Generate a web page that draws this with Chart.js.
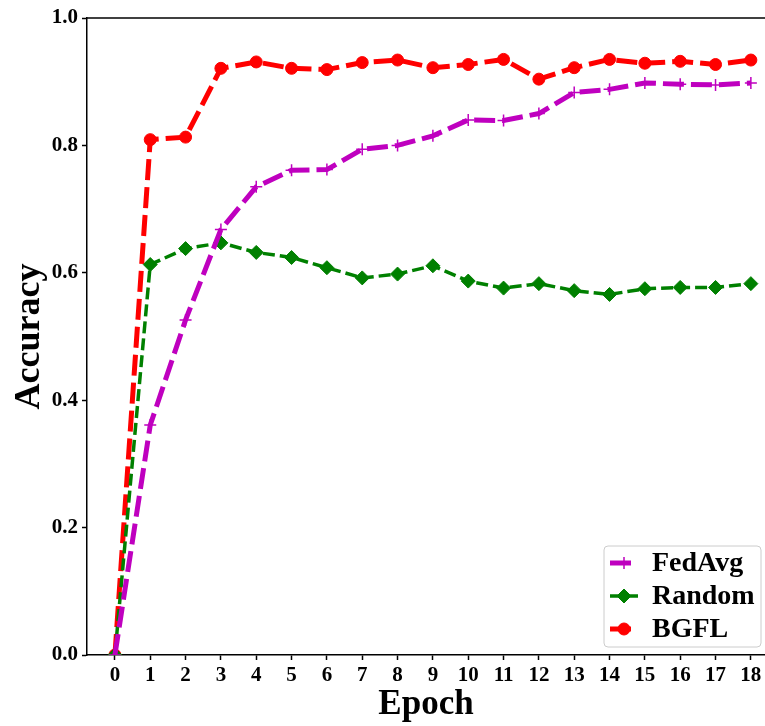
<!DOCTYPE html>
<html>
<head>
<meta charset="utf-8">
<script src="https://cdn.jsdelivr.net/npm/chart.js@4.4.0/dist/chart.umd.min.js"></script>
<style>
  html, body { margin: 0; padding: 0; background: #fff; }
  #wrap { width: 765px; height: 726px; }
</style>
</head>
<body>
<div id="wrap"><canvas id="accChart"></canvas></div>
<script>
// values
const epochs = [0, 1, 2, 3, 4, 5, 6, 7, 8, 9, 10, 11, 12, 13, 14, 15, 16, 17, 18];
const fedAvg = [0, 0.361, 0.526, 0.668, 0.735, 0.761, 0.762, 0.794, 0.800, 0.815, 0.840, 0.839, 0.850, 0.883, 0.888, 0.898, 0.896, 0.895, 0.898];
const random = [0, 0.613, 0.638, 0.647, 0.632, 0.624, 0.608, 0.592, 0.598, 0.611, 0.587, 0.576, 0.583, 0.572, 0.566, 0.575, 0.577, 0.577, 0.583];
const bgfl   = [0, 0.809, 0.813, 0.921, 0.931, 0.921, 0.919, 0.930, 0.934, 0.922, 0.927, 0.935, 0.904, 0.922, 0.935, 0.929, 0.932, 0.927, 0.934];
const yTicks = [0, 0.2, 0.4, 0.6, 0.8, 1.0];

const FONT = '"Liberation Serif", "Times New Roman", serif';

function toPoints(arr) {
  return arr.map((v, i) => ({ x: epochs[i], y: v }));
}

// legend drawn inside the plot, lower right, like matplotlib's
const legendBox = {
  id: 'legendBox',
  afterDatasetsDraw(chart) {
    const ctx = chart.ctx;
    const area = chart.chartArea;

    // top spine
    ctx.save();
    ctx.strokeStyle = '#000';
    ctx.lineWidth = 1.5;
    ctx.beginPath();
    ctx.moveTo(area.left, area.top);
    ctx.lineTo(area.right, area.top);
    ctx.stroke();

    const w = 157, h = 101;
    const x = area.right - 4 - w;
    const y = area.bottom - 8 - h;
    ctx.fillStyle = 'rgba(255,255,255,0.85)';
    ctx.strokeStyle = '#cccccc';
    ctx.lineWidth = 1;
    ctx.beginPath();
    ctx.roundRect(x, y, w, h, 4);
    ctx.fill();
    ctx.stroke();

    chart.data.datasets.forEach((ds, i) => {
      const ry = y + 17 + i * 33;
      const x0 = x + 6, x1 = x + 34;
      ctx.save();
      ctx.strokeStyle = ds.borderColor;
      ctx.lineWidth = ds.borderWidth;
      ctx.setLineDash(ds.borderDash);
      ctx.beginPath();
      ctx.moveTo(x0, ry);
      ctx.lineTo(x1, ry);
      ctx.stroke();
      ctx.setLineDash([]);
      ctx.fillStyle = ds.pointBackgroundColor;
      ctx.strokeStyle = ds.pointBorderColor;
      ctx.lineWidth = ds.pointBorderWidth;
      Chart.helpers.drawPoint(ctx, {
        pointStyle: ds.pointStyle,
        radius: ds.pointRadius,
        borderWidth: ds.pointBorderWidth,
        rotation: 0
      }, (x0 + x1) / 2, ry);
      ctx.restore();

      ctx.fillStyle = '#000';
      ctx.font = 'bold 28px ' + FONT;
      ctx.textBaseline = 'middle';
      ctx.textAlign = 'left';
      ctx.fillText(ds.label, x + 48, ry + 1);
    });
    ctx.restore();
  }
};

const ctx = document.getElementById('accChart').getContext('2d');
new Chart(ctx, {
  type: 'line',
  data: {
    datasets: [
      {
        label: 'FedAvg',
        data: toPoints(fedAvg),
        borderColor: '#bf00bf',
        borderWidth: 5,
        borderDash: [21, 7],
        pointStyle: 'cross',
        pointRadius: 6,
        pointBorderWidth: 1.5,
        pointBackgroundColor: '#bf00bf',
        pointBorderColor: '#bf00bf',
        tension: 0
      },
      {
        label: 'Random',
        data: toPoints(random),
        borderColor: '#008000',
        borderWidth: 3.5,
        borderDash: [12, 5],
        pointStyle: 'rectRot',
        pointRadius: 7,
        pointBorderWidth: 1,
        pointBackgroundColor: '#008000',
        pointBorderColor: '#008000',
        tension: 0
      },
      {
        label: 'BGFL',
        data: toPoints(bgfl),
        borderColor: '#ff0000',
        borderWidth: 5,
        borderDash: [21, 7],
        pointStyle: 'circle',
        pointRadius: 6,
        pointBorderWidth: 1,
        pointBackgroundColor: '#ff0000',
        pointBorderColor: '#ff0000',
        tension: 0
      }
    ]
  },
  options: {
    responsive: true,
    maintainAspectRatio: false,
    animation: false,
    layout: { autoPadding: false, padding: { top: 18, right: 0, left: 0, bottom: 0 } },
    plugins: {
      legend: { display: false },
      tooltip: { enabled: false }
    },
    scales: {
      x: {
        type: 'linear',
        min: -0.79,
        max: 18.4,
        afterBuildTicks: s => { s.ticks = epochs.map(v => ({ value: v })); },
        afterFit: s => { s.height = 71; s.paddingLeft = 0; s.paddingRight = 0; },
        grid: { drawOnChartArea: false, drawTicks: true, tickLength: 5, color: '#000', tickWidth: 1.5 },
        border: { display: true, color: '#000', width: 1.5 },
        ticks: { color: '#000', padding: 3, font: { family: FONT, size: 21, weight: 'bold' }, maxRotation: 0, autoSkip: false },
        title: { display: true, text: 'Epoch', color: '#000', padding: { top: 0, bottom: 0 }, font: { family: FONT, size: 35, weight: 'bold' } }
      },
      y: {
        min: 0,
        max: 1,
        afterBuildTicks: s => { s.ticks = yTicks.map(v => ({ value: v })); },
        afterFit: s => { s.width = 87; s.paddingTop = 0; s.paddingBottom = 0; },
        grid: { drawOnChartArea: false, drawTicks: true, tickLength: 5, color: '#000', tickWidth: 1.5 },
        border: { display: true, color: '#000', width: 1.5 },
        ticks: { color: '#000', padding: 4, font: { family: FONT, size: 21, weight: 'bold' }, callback: v => v.toFixed(1) },
        title: { display: true, text: 'Accuracy', color: '#000', padding: { top: 8, bottom: 0 }, font: { family: FONT, size: 36, weight: 'bold' } }
      }
    }
  },
  plugins: [legendBox]
});
</script>
</body>
</html>
